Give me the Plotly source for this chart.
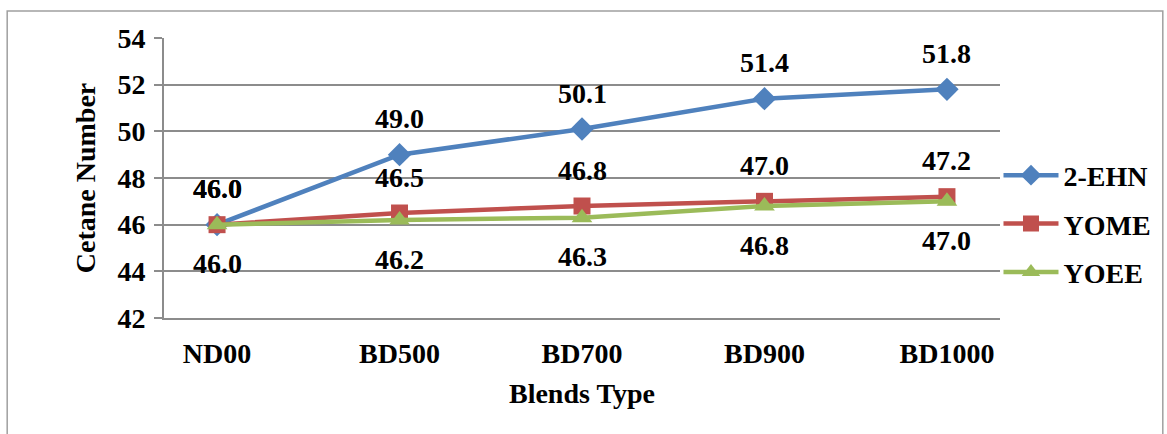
import plotly.graph_objects as go

# Blend categories and measured cetane numbers
blends = ["ND00", "BD500", "BD700", "BD900", "BD1000"]
ehn_2 = [46.0, 49.0, 50.1, 51.4, 51.8]
yome = [46.0, 46.5, 46.8, 47.0, 47.2]
yoee = [46.0, 46.2, 46.3, 46.8, 47.0]

FONT = "Liberation Serif, Times New Roman, serif"
FS = 28
GRID = "#8c8c8c"

series = [
    ("2-EHN", ehn_2, "#4F81BD", "diamond", 18, 36),
    ("YOME", yome, "#C0504D", "square", 17, 36),
    ("YOEE", yoee, "#9BBB59", "triangle-up", 18, -39),
]

fig = go.Figure()
annotations = []
for name, vals, color, symbol, msize, shift in series:
    fig.add_trace(go.Scatter(
        x=blends, y=vals, name=f"<b>{name}</b>", mode="lines+markers",
        line=dict(color=color, width=4.5),
        marker=dict(symbol=symbol, size=msize, color=color),
        legendgroup=name,
    ))
    for b, v in zip(blends, vals):
        annotations.append(dict(
            x=b, y=v, text=f"<b>{v:.1f}</b>", showarrow=False,
            yshift=shift, font=dict(family=FONT, size=FS, color="black"),
        ))

# Outer frame around the whole chart (paper coordinates extend beyond the plot)
L, R, T, B = 164, 1001, 38, 318
W, H = R - L, B - T
def px(x):
    return (x - L) / W
def py(y):
    return (B - y) / H

fig.add_shape(type="rect", xref="paper", yref="paper",
              x0=px(7), x1=px(1164), y0=py(445), y1=py(11),
              line=dict(color="#a0a0a0", width=1.5), layer="below")

fig.update_layout(
    width=1167, height=434,
    margin=dict(l=L, r=1167 - R, t=T, b=434 - B),
    paper_bgcolor="white", plot_bgcolor="white",
    font=dict(family=FONT, color="black"),
    annotations=annotations,
    showlegend=True,
    legend=dict(
        x=0.997, xanchor="left", y=py(224), yanchor="middle",
        font=dict(family=FONT, size=FS, color="black"),
        tracegroupgap=9, itemwidth=55,
        bgcolor="rgba(0,0,0,0)",
    ),
    xaxis=dict(
        showgrid=False, showline=True, linecolor=GRID, linewidth=2,
        ticks="", tickfont=dict(family=FONT, size=FS, color="black"),
        ticklabelstandoff=9,
        title=dict(text="<b>Blends Type</b>", font=dict(family=FONT, size=FS), standoff=16),
        tickprefix="<b>", ticksuffix="</b>",
    ),
    yaxis=dict(
        range=[42, 54], dtick=2, showgrid=True, gridcolor=GRID, gridwidth=1.5,
        showline=True, linecolor=GRID, linewidth=2,
        ticks="outside", ticklen=8, tickcolor=GRID, tickwidth=1.5,
        tickfont=dict(family=FONT, size=FS, color="black"),
        ticklabelstandoff=3,
        tickprefix="<b>", ticksuffix="</b>",
        title=dict(text="<b>Cetane Number</b>", font=dict(family=FONT, size=FS), standoff=14),
        zeroline=False,
    ),
)

fig.write_html("out.html")
